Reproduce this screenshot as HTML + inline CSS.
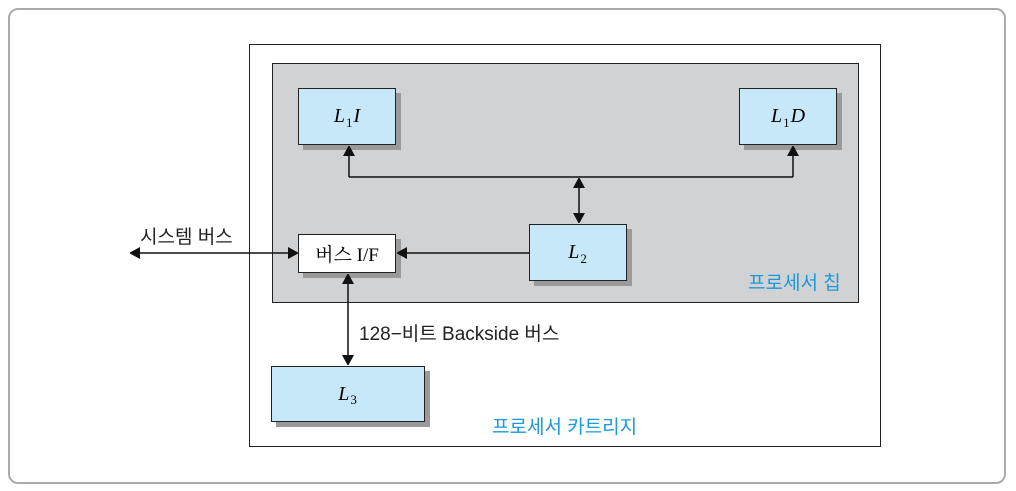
<!DOCTYPE html>
<html><head><meta charset="utf-8"><style>
body{margin:0;width:1016px;height:491px;background:#fff;overflow:hidden;position:relative;font-family:"Liberation Sans","Noto Sans CJK KR",sans-serif}
.a{position:absolute;box-sizing:border-box;white-space:nowrap}
.box{position:absolute;box-sizing:border-box;border:1.5px solid #222;background:#c7e8f8;box-shadow:5px 5px 0 #9a9a9a;display:flex;align-items:center;justify-content:center;font-family:"Liberation Serif",serif;font-style:italic;font-size:20px}
.s{font-style:normal;font-size:13px;position:relative;top:6px;margin:0 1px}
</style></head><body>
<div class="a" style="left:8px;top:8px;width:998px;height:476px;border:2px solid #aaa;border-radius:10px"></div>
<div class="a" style="left:249px;top:44px;width:632px;height:403px;border:1.5px solid #222"></div>
<div class="a" style="left:272px;top:63px;width:587px;height:240px;border:1.5px solid #222;background:#d1d2d4"></div>
<div class="box" style="left:298px;top:88px;width:98px;height:57px">L<span class="s">1</span>I</div>
<div class="box" style="left:739px;top:88px;width:98px;height:57px">L<span class="s">1</span>D</div>
<div class="box" style="left:529px;top:224px;width:98px;height:57px">L<span class="s">2</span></div>
<div class="box" style="left:298px;top:234px;width:98px;height:39px;background:#fff;font-style:normal;font-size:19px"><span style="font-family:'Liberation Serif','Noto Serif CJK SC',serif">버스 I/F</span></div>
<div class="box" style="left:271px;top:366px;width:154px;height:56px">L<span class="s">3</span></div>
<svg class="a" style="left:0;top:0" width="1016" height="491">
<defs><marker id="m" markerWidth="10" markerHeight="12" refX="9" refY="6" orient="auto-start-reverse" markerUnits="userSpaceOnUse"><path d="M0,0L11,6L0,12z" fill="#111"/></marker></defs>
<g stroke="#111" stroke-width="1.5" fill="none">
<path d="M349,177H793"/>
<path d="M349,177V147" marker-end="url(#m)"/>
<path d="M793,177V147" marker-end="url(#m)"/>
<path d="M579,179V222" marker-start="url(#m)" marker-end="url(#m)"/>
<path d="M131,253H297" marker-start="url(#m)" marker-end="url(#m)"/>
<path d="M529,253H398" marker-end="url(#m)"/>
<path d="M348,275V364" marker-start="url(#m)" marker-end="url(#m)"/>
</g></svg>
<div class="a" style="left:140px;top:222px;font-size:19px;color:#222">시스템 버스</div>
<div class="a" style="left:359px;top:319px;font-size:19px;color:#222">128−비트 Backside 버스</div>
<div class="a" style="left:748px;top:268px;font-size:19px;color:#1a9ad8">프로세서 칩</div>
<div class="a" style="left:492px;top:412px;font-size:19px;color:#1a9ad8">프로세서 카트리지</div>
</body></html>
